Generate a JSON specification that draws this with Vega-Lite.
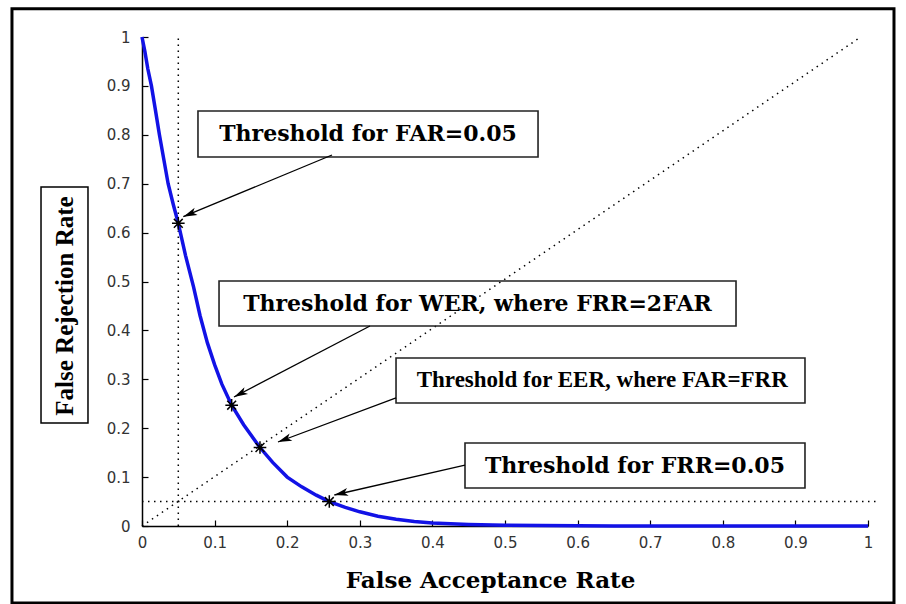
{
  "$schema": "https://vega.github.io/schema/vega-lite/v6.json",
  "width": 726,
  "height": 489,
  "autosize": {"type": "none"},
  "padding": {"left": 142, "top": 37, "right": 38, "bottom": 78},
  "background": "white",
  "config": {
    "view": {"stroke": null},
    "axis": {"grid": false}
  },
  "datasets": {
    "curve": [
      {"far": 0, "frr": 1}, {"far": 0.004, "frr": 0.97}, {"far": 0.008, "frr": 0.935},
      {"far": 0.013, "frr": 0.9}, {"far": 0.018, "frr": 0.855}, {"far": 0.024, "frr": 0.8},
      {"far": 0.03, "frr": 0.75}, {"far": 0.036, "frr": 0.7}, {"far": 0.043, "frr": 0.658},
      {"far": 0.05, "frr": 0.619}, {"far": 0.06, "frr": 0.553}, {"far": 0.071, "frr": 0.489},
      {"far": 0.08, "frr": 0.43}, {"far": 0.09, "frr": 0.375}, {"far": 0.1, "frr": 0.33},
      {"far": 0.11, "frr": 0.29}, {"far": 0.1235, "frr": 0.247}, {"far": 0.14, "frr": 0.207},
      {"far": 0.1625, "frr": 0.1605}, {"far": 0.18, "frr": 0.13}, {"far": 0.2, "frr": 0.1},
      {"far": 0.22, "frr": 0.08}, {"far": 0.24, "frr": 0.063}, {"far": 0.258, "frr": 0.05},
      {"far": 0.28, "frr": 0.038}, {"far": 0.3, "frr": 0.029}, {"far": 0.325, "frr": 0.02},
      {"far": 0.35, "frr": 0.014}, {"far": 0.375, "frr": 0.009}, {"far": 0.4, "frr": 0.006},
      {"far": 0.45, "frr": 0.003}, {"far": 0.5, "frr": 0.0015}, {"far": 0.55, "frr": 0.0008},
      {"far": 0.6, "frr": 0.0004}, {"far": 0.65, "frr": 0.0002}, {"far": 0.7, "frr": 0},
      {"far": 0.8, "frr": 0}, {"far": 0.9, "frr": 0}, {"far": 1, "frr": 0}
    ],
    "stars": [
      {"far": 0.05, "frr": 0.619}, {"far": 0.1235, "frr": 0.247},
      {"far": 0.1625, "frr": 0.1605}, {"far": 0.258, "frr": 0.05}
    ],
    "refs": [
      {"x": 0.05, "y": 0, "x2": 0.05, "y2": 1},
      {"x": 0, "y": 0.05, "x2": 1.012, "y2": 0.05},
      {"x": 0, "y": 0, "x2": 0.99, "y2": 1}
    ],
    "notes": [
      {"label": "Threshold for FAR=0.05", "style": "wide", "bx1": 0.0771, "bx2": 0.5455, "by1": 0.7546, "by2": 0.8487, "lx": 0.3113, "ly": 0.8016, "sx": 0.2617, "sy": 0.7587, "tx": 0.0569, "ty": 0.6325},
      {"label": "Threshold for WER, where FRR=2FAR", "style": "wide", "bx1": 0.1061, "bx2": 0.8182, "by1": 0.409, "by2": 0.501, "lx": 0.4621, "ly": 0.455, "sx": 0.314, "sy": 0.409, "tx": 0.1267, "ty": 0.2638},
      {"label": "Threshold for EER, where FAR=FRR", "style": "tight", "bx1": 0.3499, "bx2": 0.9132, "by1": 0.2515, "by2": 0.3436, "lx": 0.634, "ly": 0.2976, "sx": 0.3499, "sy": 0.2618, "tx": 0.1873, "ty": 0.1718},
      {"label": "Threshold for FRR=0.05", "style": "wide", "bx1": 0.4449, "bx2": 0.9132, "by1": 0.0777, "by2": 0.1697, "lx": 0.679, "ly": 0.1237, "sx": 0.4449, "sy": 0.1247, "tx": 0.2649, "ty": 0.0634}
    ],
    "frame": [{"x1": -0.1791, "x2": 1.0358, "y1": 1.0579, "y2": -0.1575}],
    "ytitle": [{"x1": -0.1391, "x2": -0.0744, "y1": 0.2106, "y2": 0.6933, "lx": -0.1067, "ly": 0.4499, "label": "False Rejection Rate"}]
  },
  "layer": [
    {
      "data": {"name": "frame"},
      "mark": {"type": "rect", "fill": null, "fillOpacity": 0, "stroke": "black", "strokeWidth": 3, "clip": false},
      "encoding": {
        "x": {
          "field": "x1", "type": "quantitative", "title": "False Acceptance Rate",
          "scale": {"domain": [0, 1], "nice": false},
          "axis": {
            "values": [0, 0.1, 0.2, 0.3, 0.4, 0.5, 0.6, 0.7, 0.8, 0.9, 1],
            "format": "~g",
            "titleFont": "DejaVu Serif", "titleFontWeight": "bold", "titleFontSize": 23, "titleColor": "black",
            "titleX": 348, "titleY": 61, "titleBaseline": "alphabetic", "titleAlign": "center",
            "labelFont": "DejaVu Sans", "labelFontSize": 15, "labelColor": "#333333",
            "tickSize": -6, "tickColor": "black", "tickWidth": 1.2,
            "domainColor": "black", "domainWidth": 1.5,
            "labelPadding": 15, "labelFlush": false, "labelOverlap": false
          }
        },
        "x2": {"field": "x2"},
        "y": {
          "field": "y1", "type": "quantitative", "title": null,
          "scale": {"domain": [0, 1], "nice": false},
          "axis": {
            "values": [0, 0.1, 0.2, 0.3, 0.4, 0.5, 0.6, 0.7, 0.8, 0.9, 1],
            "format": "~g",
            "labelFont": "DejaVu Sans", "labelFontSize": 15, "labelColor": "#333333",
            "tickSize": -6, "tickColor": "black", "tickWidth": 1.2,
            "domainColor": "black", "domainWidth": 1.5,
            "labelPadding": 18, "labelFlush": false, "labelOverlap": false
          }
        },
        "y2": {"field": "y2"}
      }
    },
    {
      "data": {"name": "ytitle"},
      "mark": {"type": "rect", "fill": null, "fillOpacity": 0, "stroke": "black", "strokeWidth": 1.5, "clip": false},
      "encoding": {
        "x": {"field": "x1", "type": "quantitative", "title": "False Acceptance Rate"},
        "x2": {"field": "x2"},
        "y": {"field": "y1", "type": "quantitative", "title": null},
        "y2": {"field": "y2"}
      }
    },
    {
      "data": {"name": "ytitle"},
      "mark": {"type": "text", "font": "Liberation Serif", "fontWeight": "bold", "fontSize": 25, "color": "black", "angle": 270, "align": "center", "baseline": "middle", "clip": false},
      "encoding": {
        "x": {"field": "lx", "type": "quantitative", "title": "False Acceptance Rate"},
        "y": {"field": "ly", "type": "quantitative", "title": null},
        "text": {"field": "label"}
      }
    },
    {
      "data": {"name": "refs"},
      "mark": {"type": "rule", "color": "black", "strokeWidth": 1.5, "strokeDash": [1.5, 4.5], "clip": false},
      "encoding": {
        "x": {"field": "x", "type": "quantitative", "title": "False Acceptance Rate"},
        "y": {"field": "y", "type": "quantitative", "title": null},
        "x2": {"field": "x2"},
        "y2": {"field": "y2"}
      }
    },
    {
      "data": {"name": "curve"},
      "mark": {"type": "line", "color": "#1212e6", "strokeWidth": 3.5, "clip": false},
      "encoding": {
        "x": {"field": "far", "type": "quantitative", "title": "False Acceptance Rate"},
        "y": {"field": "frr", "type": "quantitative", "title": null}
      }
    },
    {
      "data": {"name": "stars"},
      "mark": {"type": "point", "shape": "M-1,0L1,0M0,-1L0,1M-0.7,-0.7L0.7,0.7M-0.7,0.7L0.7,-0.7", "size": 160, "filled": false, "stroke": "black", "strokeWidth": 1.5, "opacity": 1},
      "encoding": {
        "x": {"field": "far", "type": "quantitative", "title": "False Acceptance Rate"},
        "y": {"field": "frr", "type": "quantitative", "title": null}
      }
    },
    {
      "data": {"name": "notes"},
      "mark": {"type": "rect", "fill": null, "fillOpacity": 0, "stroke": "#222222", "strokeWidth": 1.6, "clip": false},
      "encoding": {
        "x": {"field": "bx1", "type": "quantitative", "title": "False Acceptance Rate"},
        "x2": {"field": "bx2"},
        "y": {"field": "by1", "type": "quantitative", "title": null},
        "y2": {"field": "by2"}
      }
    },
    {
      "data": {"name": "notes"},
      "transform": [{"filter": "datum.style == 'wide'"}],
      "mark": {"type": "text", "font": "DejaVu Serif", "fontWeight": "bold", "fontSize": 22, "color": "black", "align": "center", "baseline": "middle"},
      "encoding": {
        "x": {"field": "lx", "type": "quantitative", "title": "False Acceptance Rate"},
        "y": {"field": "ly", "type": "quantitative", "title": null},
        "text": {"field": "label"}
      }
    },
    {
      "data": {"name": "notes"},
      "transform": [{"filter": "datum.style == 'tight'"}],
      "mark": {"type": "text", "font": "Liberation Serif", "fontWeight": "bold", "fontSize": 23, "color": "black", "align": "center", "baseline": "middle"},
      "encoding": {
        "x": {"field": "lx", "type": "quantitative", "title": "False Acceptance Rate"},
        "y": {"field": "ly", "type": "quantitative", "title": null},
        "text": {"field": "label"}
      }
    },
    {
      "data": {"name": "notes"},
      "mark": {"type": "rule", "color": "black", "strokeWidth": 1.3},
      "encoding": {
        "x": {"field": "sx", "type": "quantitative", "title": "False Acceptance Rate"},
        "y": {"field": "sy", "type": "quantitative", "title": null},
        "x2": {"field": "tx"},
        "y2": {"field": "ty"}
      }
    },
    {
      "data": {"name": "notes"},
      "transform": [{"calculate": "atan2((datum.tx - datum.sx) * 726, (datum.ty - datum.sy) * 489) * 180 / PI", "as": "heading"}],
      "mark": {"type": "point", "shape": "M0,0L-0.45,1.6L0,1.2L0.45,1.6Z", "size": 300, "filled": true, "color": "black", "opacity": 1},
      "encoding": {
        "x": {"field": "tx", "type": "quantitative", "title": "False Acceptance Rate"},
        "y": {"field": "ty", "type": "quantitative", "title": null},
        "angle": {"field": "heading", "type": "quantitative", "scale": null}
      }
    }
  ]
}
